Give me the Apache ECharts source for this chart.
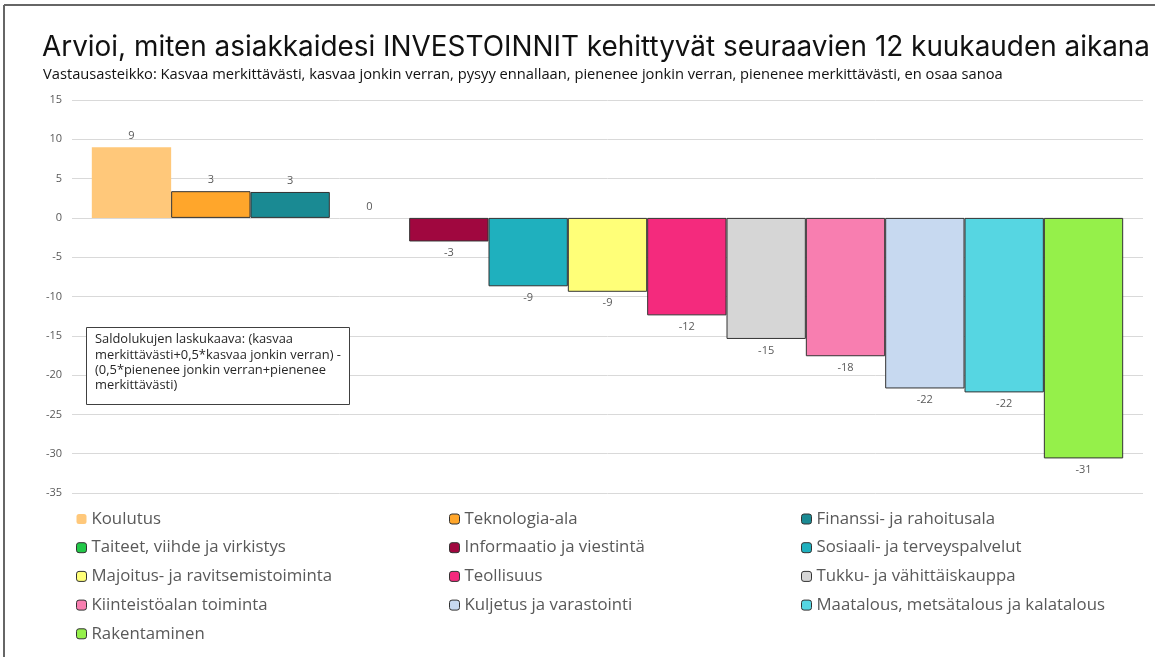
<!DOCTYPE html>
<html>
<head>
<meta charset="utf-8">
<script src="https://cdn.jsdelivr.net/npm/echarts@6/dist/echarts.min.js"></script>
<style>
  html, body { margin: 0; padding: 0; background: #fff; }
  #main { width: 1155px; height: 657px; }
</style>
</head>
<body>
<div id="main"></div>
<script>
// toimialat ja saldoluvut
const names = ["Koulutus", "Teknologia-ala", "Finanssi- ja rahoitusala", "Taiteet, viihde ja virkistys",
    "Informaatio ja viestintä", "Sosiaali- ja terveyspalvelut", "Majoitus- ja ravitsemistoiminta",
    "Teollisuus", "Tukku- ja vähittäiskauppa", "Kiinteistöalan toiminta", "Kuljetus ja varastointi",
    "Maatalous, metsätalous ja kalatalous", "Rakentaminen"];
const values = [9.0, 3.4, 3.3, 0, -3.0, -8.7, -9.4, -12.4, -15.4, -17.6, -21.7, -22.2, -30.6];
const colors = ["#FFC87A", "#FFA62B", "#1A8A93", "#22C848", "#A0073F", "#1FB0BE", "#FFFF78",
    "#F42A7D", "#D6D6D6", "#F87EB0", "#C7D9F0", "#56D6E2", "#95F04A"];
const yTicks = { min: -35, max: 15, interval: 5 };

// legenda kolmessa sarakkeessa, rivit vasemmalta oikealle
const legendCols = [
    [0, 3, 6, 9, 12],
    [1, 4, 7, 10],
    [2, 5, 8, 11]
];
const legendLeft = [76, 449, 801];

var myChart = echarts.init(document.getElementById('main'));

myChart.setOption({
    animation: false,
    title: [
        {
            text: "Arvioi, miten asiakkaidesi INVESTOINNIT kehittyvät seuraavien 12 kuukauden aikana",
            left: 37,
            top: 29,
            textStyle: { fontFamily: "Inter", fontSize: 27.9, fontWeight: "normal", color: "#111" }
        },
        {
            text: "Vastausasteikko: Kasvaa merkittävästi, kasvaa jonkin verran, pysyy ennallaan, pienenee jonkin verran, pienenee merkittävästi, en osaa sanoa",
            left: 38,
            top: 62,
            textStyle: { fontFamily: "Open Sans", fontSize: 14.7, fontWeight: "normal", color: "#111" }
        }
    ],
    legend: legendCols.map((col, i) => ({
        data: col.map(k => ({
            name: names[k],
            // Koulutus ilman reunaa, muut tummalla reunalla
            itemStyle: k === 0 ? { borderWidth: 0 } : { borderColor: "#333", borderWidth: 1 }
        })),
        orient: "vertical",
        left: legendLeft[i],
        top: 509,
        itemWidth: 10,
        itemHeight: 10,
        itemGap: 8.7,
        padding: 0,
        selectedMode: false,
        textStyle: { fontFamily: "Open Sans", fontSize: 16.8, color: "#595959", lineHeight: 20 }
    })),
    grid: { left: 72, right: 12, top: 100, bottom: 164 },
    xAxis: {
        type: "category",
        data: [""],
        show: false
    },
    yAxis: {
        type: "value",
        min: yTicks.min,
        max: yTicks.max,
        interval: yTicks.interval,
        axisLine: { show: false },
        axisTick: { show: false },
        axisLabel: { fontFamily: "Open Sans", fontSize: 11, color: "#595959", margin: 10 },
        splitLine: { lineStyle: { color: "#D9D9D9", width: 1 } }
    },
    series: names.map((name, i) => ({
        name: name,
        type: "bar",
        data: [values[i]],
        barGap: "0%",
        barCategoryGap: "3.7%",
        itemStyle: {
            color: colors[i],
            borderColor: "#333",
            borderWidth: (i === 0 || values[i] === 0) ? 0 : 1
        },
        label: {
            show: true,
            position: values[i] < 0 ? "bottom" : "top",
            distance: 6,
            fontFamily: "Open Sans",
            fontSize: 11,
            color: "#595959",
            formatter: p => Math.round(p.value)
        }
    })),
    graphic: [
        // kehys
        { type: "line", shape: { x1: 4, y1: 5, x2: 1155, y2: 5 }, style: { stroke: "#666", lineWidth: 2 } },
        { type: "line", shape: { x1: 4, y1: 5, x2: 4, y2: 657 }, style: { stroke: "#666", lineWidth: 2 } },
        // laskukaava-laatikko
        {
            type: "rect",
            shape: { x: 86.5, y: 327.5, width: 263, height: 77 },
            style: { fill: "#fff", stroke: "#404040", lineWidth: 1 },
            z: 10
        },
        {
            type: "text",
            x: 95,
            y: 332,
            z: 11,
            style: {
                text: "Saldolukujen laskukaava: (kasvaa\nmerkittävästi+0,5*kasvaa jonkin verran) -\n(0,5*pienenee jonkin verran+pienenee\nmerkittävästi)",
                fontFamily: "Open Sans",
                fontSize: 12.9,
                lineHeight: 15.3,
                fill: "#262626"
            }
        }
    ]
});
</script>
</body>
</html>
